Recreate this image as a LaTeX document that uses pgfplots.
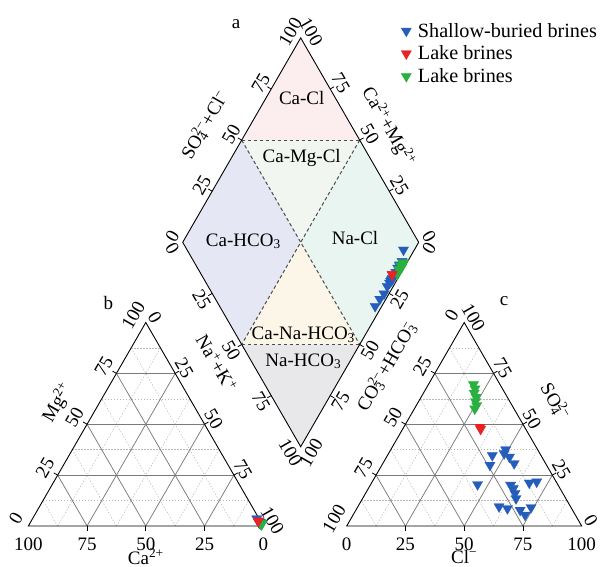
\documentclass[border=0pt]{standalone}
\usepackage{fontspec}
\setmainfont{Liberation Serif}
\usepackage{pgfplots}
\usepackage{pgfplotstable}
\pgfplotsset{compat=1.18}

\definecolor{cblue}{RGB}{36,94,186}
\definecolor{cred}{RGB}{234,34,34}
\definecolor{cgreen}{RGB}{42,176,64}
\definecolor{fCaCl}{RGB}{252,237,238}
\definecolor{fCaMgCl}{RGB}{241,247,240}
\definecolor{fCaHCO}{RGB}{230,231,244}
\definecolor{fNaCl}{RGB}{232,245,241}
\definecolor{fCaNaHCO}{RGB}{252,246,232}
\definecolor{fNaHCO}{RGB}{232,232,234}

% superscript stacked over a subscript (e.g. SO4 2-)
\newcommand\ssc[2]{\setbox0\hbox{\textsuperscript{#1}}\setbox2\hbox{\textsubscript{#2}}%
  \ifdim\wd0>\wd2 \rlap{\box2}\box0 \else \rlap{\box0}\box2 \fi}

% milliequivalent percentages: cations (ca, mg), anions (so4, cl)
\pgfplotstableread{
ca   mg   so4   cl
0.8  1.8  37.5  48.9
0.6  2.0  35.6  49.2
0.7  1.6  34.7  44.6
0.5  1.9  33.9  52.3
0.9  1.7  29.9  46.0
0.6  1.5  30.7  55.9
0.8  2.0  20.4  45.5
0.7  1.4  20.1  59.7
0.5  1.8  18.4  61.7
0.6  1.6  16.0  63.6
0.8  1.5  13.5  65.3
0.6  1.8  21.2  67.1
1.0  3.6  21.7  70.0
0.7  1.9   9.5  60.1
0.5  1.6   8.6  64.1
0.9  1.5   7.8  69.9
0.6  1.8   5.4  73.2
0.8  1.6   9.1  73.9
}\shallow

\pgfplotstableread{
ca   mg   so4   cl
1.0  2.3  48.6  32.4
0.8  2.6  47.6  33.2
}\lakered

\pgfplotstableread{
ca   mg   so4   cl
0.4  0.9  69.5  19.2
0.5  1.1  67.4  20.9
0.3  0.8  65.3  21.6
0.6  1.2  63.3  23.4
0.4  1.0  61.2  24.2
0.5  1.3  59.2  25.7
0.3  0.9  57.6  25.7
}\lakegreen

% one straight line inside a ternary triangle: style, origin x, origin y, (u,v) -> (u,v)
\newcommand\tline[7]{\draw[#1] (axis cs:{#2+235*((#4)+(#5)/2)},{#3-203.5*(#5)}) -- (axis cs:{#2+235*((#6)+(#7)/2)},{#3-203.5*(#7)});}
% three grid lines of a triangle at level t
\newcommand\tgrid[3]{%
  \tline{#1}{#2}{526}{0}{#3}{1-#3}{#3}%
  \tline{#1}{#2}{526}{#3}{0}{#3}{1-#3}%
  \tline{#1}{#2}{526}{1-#3}{0}{0}{1-#3}}
% short outward tick: point x, point y, normal x, normal y
\newcommand\tk[4]{\draw[black, line width=0.8pt] (axis cs:{#1},{#2}) -- (axis cs:{#1+4.5*(#3)},{#2+4.5*(#4)});}
% tick labels of the triangles
\newcommand\labL[4]{\node[rotate=60,inner sep=0pt] at (axis cs:{#1+117.5*#2-0.866*#4},{526-203.5*#2-0.5*#4}) {#3};}
\newcommand\labR[4]{\node[rotate=-60,inner sep=0pt] at (axis cs:{#1+117.5+117.5*#2+0.866*#4},{322.5+203.5*#2-0.5*#4}) {#3};}
\newcommand\labB[3]{\node[anchor=base,inner sep=0pt] at (axis cs:{#1+235*#2},550) {#3};}
% tick labels of the diamond
\def\dd{12}
\newcommand\dUL[2]{\node[rotate=60,inner sep=0pt] at (axis cs:{182.7+118*#1-0.866*\dd},{242.3-204.4*#1-0.5*\dd}) {#2};}
\newcommand\dUR[2]{\node[rotate=-60,inner sep=0pt] at (axis cs:{418.7-118*#1+0.866*\dd},{242.3-204.4*#1-0.5*\dd}) {#2};}
\newcommand\dLL[2]{\node[rotate=-60,inner sep=0pt] at (axis cs:{182.7+118*#1-0.866*\dd},{242.3+204.4*#1+0.5*\dd}) {#2};}
\newcommand\dLR[2]{\node[rotate=60,inner sep=0pt] at (axis cs:{418.7-118*#1+0.866*\dd},{242.3+204.4*#1+0.5*\dd}) {#2};}

\tikzset{
  minorgrid/.style={draw=black!28, dash pattern=on 1.4pt off 1.6pt, line width=0.5pt},
  majorgrid/.style={draw=black!52, line width=0.75pt},
  zone/.style={draw=black!70, dash pattern=on 3.5pt off 2.5pt, line width=1pt},
  frame/.style={draw=black, line width=0.9pt},
}
\pgfplotsset{
  pts/.style={only marks, mark=triangle*, mark size=5.9pt,
    mark options={rotate=180, fill=#1, draw=#1, line width=0.3pt}},
  table/catri/.style={x expr={28.3+2.35*(100-\thisrow{ca}-\thisrow{mg}/2)}, y expr={526-2.035*\thisrow{mg}}},
  table/antri/.style={x expr={346.7+2.35*(\thisrow{cl}+\thisrow{so4}/2)}, y expr={526-2.035*\thisrow{so4}}},
  table/diam/.style={x expr={300.7+1.18*(\thisrow{so4}+\thisrow{cl}-\thisrow{ca}-\thisrow{mg})},
               y expr={446.7-2.044*(\thisrow{so4}+\thisrow{cl}+\thisrow{ca}+\thisrow{mg})}},
}

\begin{document}
\begin{tikzpicture}[font=\fontsize{19}{22}\selectfont]
\begin{axis}[
  scale only axis, width=600pt, height=567pt,
  xmin=0, xmax=600, ymin=0, ymax=567, y dir=reverse,
  enlargelimits=false, hide axis, clip=false,
  legend style={at={(axis cs:401,21)}, anchor=north west, draw=none, fill=none,
    inner sep=0pt, row sep=3.2pt, column sep=4.5pt, font=\fontsize{20.2}{22}\selectfont},
  legend cell align=left,
]
\coordinate (bbsw) at (axis cs:0,567);
\coordinate (bbne) at (axis cs:600,0);

% hydrochemical zones of the diamond
\fill[fCaCl]    (axis cs:300.7,37.9) -- (axis cs:241.7,140.1) -- (axis cs:359.7,140.1) -- cycle;
\fill[fCaMgCl]  (axis cs:241.7,140.1) -- (axis cs:359.7,140.1) -- (axis cs:300.7,242.3) -- cycle;
\fill[fCaHCO]   (axis cs:182.7,242.3) -- (axis cs:241.7,140.1) -- (axis cs:300.7,242.3) -- (axis cs:241.7,344.5) -- cycle;
\fill[fNaCl]    (axis cs:418.7,242.3) -- (axis cs:359.7,140.1) -- (axis cs:300.7,242.3) -- (axis cs:359.7,344.5) -- cycle;
\fill[fCaNaHCO] (axis cs:300.7,242.3) -- (axis cs:241.7,344.5) -- (axis cs:359.7,344.5) -- cycle;
\fill[fNaHCO]   (axis cs:241.7,344.5) -- (axis cs:359.7,344.5) -- (axis cs:300.7,446.7) -- cycle;
\draw[zone] (axis cs:241.7,140.1) -- (axis cs:359.7,140.1);
\draw[zone] (axis cs:241.7,344.5) -- (axis cs:359.7,344.5);
\draw[zone] (axis cs:241.7,140.1) -- (axis cs:359.7,344.5);
\draw[zone] (axis cs:359.7,140.1) -- (axis cs:241.7,344.5);

% triangle grids
\pgfplotsinvokeforeach{0.125,0.375,0.625,0.875}{\tgrid{minorgrid}{28.3}{#1}\tgrid{minorgrid}{346.7}{#1}}
\pgfplotsinvokeforeach{0.25,0.5,0.75}{%
  \tgrid{majorgrid}{28.3}{#1}\tgrid{majorgrid}{346.7}{#1}%
  \tk{28.3+235*#1}{526}{0}{1}%
  \tk{28.3+117.5*#1}{526-203.5*#1}{-0.866}{-0.5}%
  \tk{145.8+117.5*#1}{322.5+203.5*#1}{0.866}{-0.5}%
  \tk{346.7+235*#1}{526}{0}{1}%
  \tk{346.7+117.5*#1}{526-203.5*#1}{-0.866}{-0.5}%
  \tk{464.2+117.5*#1}{322.5+203.5*#1}{0.866}{-0.5}%
  \tk{182.7+118*#1}{242.3-204.4*#1}{-0.866}{-0.5}%
  \tk{418.7-118*#1}{242.3-204.4*#1}{0.866}{-0.5}%
  \tk{182.7+118*#1}{242.3+204.4*#1}{-0.866}{0.5}%
  \tk{418.7-118*#1}{242.3+204.4*#1}{0.866}{0.5}%
}

% outlines
\draw[frame] (axis cs:28.3,526) -- (axis cs:263.3,526) -- (axis cs:145.8,322.5) -- cycle;
\draw[frame] (axis cs:346.7,526) -- (axis cs:581.7,526) -- (axis cs:464.2,322.5) -- cycle;
\draw[frame] (axis cs:300.7,37.9) -- (axis cs:418.7,242.3) -- (axis cs:300.7,446.7) -- (axis cs:182.7,242.3) -- cycle;

% tick labels, cation triangle
\labB{28.3}{0}{100}\labB{28.3}{0.25}{75}\labB{28.3}{0.5}{50}\labB{28.3}{0.75}{25}\labB{28.3}{1}{0}
\labL{28.3}{0}{0}{14.5}\labL{28.3}{0.25}{25}{14.5}\labL{28.3}{0.5}{50}{14.5}\labL{28.3}{0.75}{75}{14.5}\labL{28.3}{1}{100}{14.5}
\labR{28.3}{0}{0}{10.5}\labR{28.3}{0.25}{25}{10.5}\labR{28.3}{0.5}{50}{10.5}\labR{28.3}{0.75}{75}{10.5}\labR{28.3}{1}{100}{10.5}
% tick labels, anion triangle
\labB{346.7}{0}{0}\labB{346.7}{0.25}{25}\labB{346.7}{0.5}{50}\labB{346.7}{0.75}{75}\labB{346.7}{1}{100}
\labL{346.7}{0}{100}{14.5}\labL{346.7}{0.25}{75}{14.5}\labL{346.7}{0.5}{50}{14.5}\labL{346.7}{0.75}{25}{14.5}\labL{346.7}{1}{0}{14.5}
\labR{346.7}{0}{100}{10.5}\labR{346.7}{0.25}{75}{10.5}\labR{346.7}{0.5}{50}{10.5}\labR{346.7}{0.75}{25}{10.5}\labR{346.7}{1}{0}{10.5}
% tick labels, diamond
\dUL{0}{0}\dUL{0.25}{25}\dUL{0.5}{50}\dUL{0.75}{75}\dUL{1}{100}
\dUR{0}{0}\dUR{0.25}{25}\dUR{0.5}{50}\dUR{0.75}{75}\dUR{1}{100}
\dLL{0}{0}\dLL{0.25}{25}\dLL{0.5}{50}\dLL{0.75}{75}\dLL{1}{100}
\dLR{0}{0}\dLR{0.25}{25}\dLR{0.5}{50}\dLR{0.75}{75}\dLR{1}{100}

% axis titles
\node[anchor=base] at (axis cs:145.8,564) {Ca\textsuperscript{2+}};
\node[anchor=base] at (axis cs:464.2,563) {Cl\textsuperscript{−}};
\node[rotate=60] at (axis cs:57.5,402.5) {Mg\textsuperscript{2+}};
\node[rotate=-60] at (axis cs:216.7,363.3) {Na\textsuperscript{+}+K\textsuperscript{+}};
\node[rotate=60] at (axis cs:386.7,366.7) {CO\ssc{2−}{3}+HCO\ssc{−}{3}};
\node[rotate=-60] at (axis cs:555,401.7) {SO\ssc{2−}{4}};
\node[rotate=60] at (axis cs:205,125) {SO\ssc{2−}{4}+Cl\textsuperscript{−}};
\node[rotate=-60] at (axis cs:388.3,126.7) {Ca\textsuperscript{2+}+Mg\textsuperscript{2+}};

% zone names
\node[anchor=base] at (axis cs:301.7,104.6) {Ca-Cl};
\node[anchor=base] at (axis cs:301.7,163) {Ca-Mg-Cl};
\node[anchor=base] at (axis cs:243.3,246) {Ca-HCO\textsubscript{3}};
\node[anchor=base] at (axis cs:355,244.4) {Na-Cl};
\node[anchor=base] at (axis cs:303.3,339.5) {Ca-Na-HCO\textsubscript{3}};
\node[anchor=base] at (axis cs:303.3,366) {Na-HCO\textsubscript{3}};

% panel letters
\node[anchor=base] at (axis cs:236,28.3) {a};
\node[anchor=base] at (axis cs:108.3,309) {b};
\node[anchor=base] at (axis cs:504,305) {c};

% legend
\addlegendimage{pts=cblue}\addlegendentry{Shallow-buried brines}
\addlegendimage{pts=cred}\addlegendentry{Lake brines}
\addlegendimage{pts=cgreen}\addlegendentry{Lake brines}

% samples: cation triangle, anion triangle, diamond
\addplot[pts=cblue, forget plot] table[catri] {\shallow};
\addplot[pts=cgreen, forget plot] table[catri] {\lakegreen};
\addplot[pts=cred, forget plot] table[catri] {\lakered};
\addplot[pts=cblue, forget plot] table[antri] {\shallow};
\addplot[pts=cgreen, forget plot] table[antri] {\lakegreen};
\addplot[pts=cred, forget plot] table[antri] {\lakered};
\addplot[pts=cblue, forget plot] table[diam] {\shallow};
\addplot[pts=cgreen, forget plot] table[diam] {\lakegreen};
\addplot[pts=cred, forget plot] table[diam] {\lakered};
\end{axis}
\pgfresetboundingbox
\path[use as bounding box] (bbsw) rectangle (bbne);
\end{tikzpicture}
\end{document}
